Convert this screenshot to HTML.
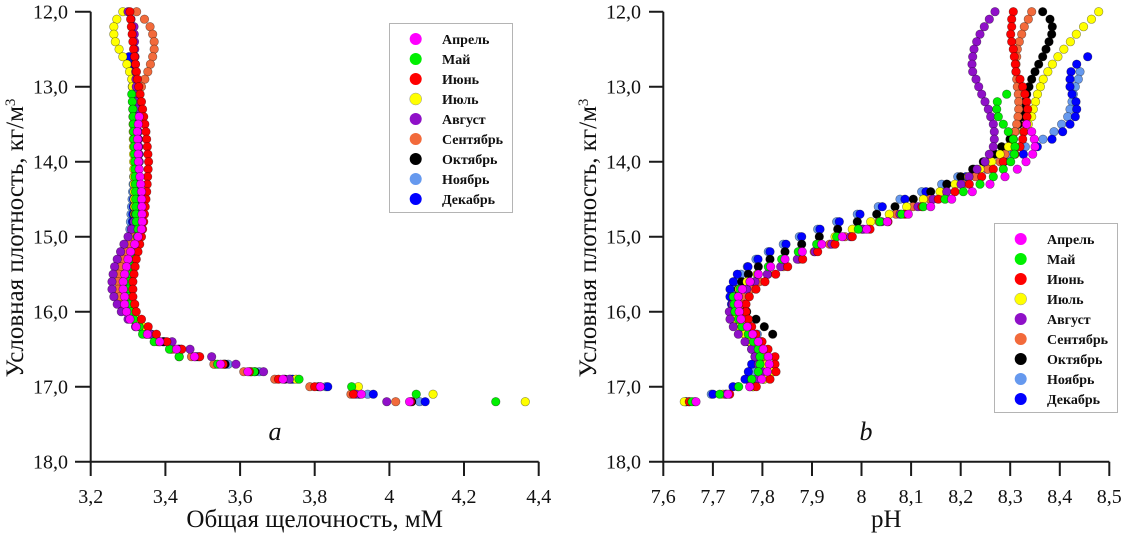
<!DOCTYPE html>
<html>
<head>
<meta charset="utf-8">
<style>
html,body{margin:0;padding:0;background:#fff;width:1126px;height:535px;overflow:hidden}
svg{display:block}
svg text{font-family:"Liberation Serif","DejaVu Serif","Noto Serif CJK SC",serif}
</style>
</head>
<body>
<svg id="s" width="1126" height="535" viewBox="0 0 1126 535" xmlns="http://www.w3.org/2000/svg">
<rect width="1126" height="535" fill="#fff"/>

<!-- Axes -->
<g stroke="#1a1a1a" stroke-width="2" fill="none">
  <path d="M90.7 11.7 V461.7 H538.7"/>
  <path d="M75 11.7H90.7 M75 86.7H90.7 M75 161.7H90.7 M75 236.7H90.7 M75 311.7H90.7 M75 386.7H90.7 M75 461.7H90.7"/>
  <path d="M90.7 461.7V476 M165.4 461.7V476 M240.1 461.7V476 M314.7 461.7V476 M389.4 461.7V476 M464 461.7V476 M538.7 461.7V476"/>
  <path d="M663.3 11.7 V461.7 H1109.3"/>
  <path d="M649 11.7H663.3 M649 86.7H663.3 M649 161.7H663.3 M649 236.7H663.3 M649 311.7H663.3 M649 386.7H663.3 M649 461.7H663.3"/>
  <path d="M663.3 461.7V476 M712.9 461.7V476 M762.4 461.7V476 M812 461.7V476 M861.5 461.7V476 M911.1 461.7V476 M960.7 461.7V476 M1010.2 461.7V476 M1059.8 461.7V476 M1109.3 461.7V476"/>
</g>

<!-- Y tick labels -->
<g font-size="20" fill="#111" text-anchor="end">
  <text x="68" y="18.7">12,0</text>
  <text x="68" y="93.7">13,0</text>
  <text x="68" y="168.7">14,0</text>
  <text x="68" y="243.7">15,0</text>
  <text x="68" y="318.7">16,0</text>
  <text x="68" y="393.7">17,0</text>
  <text x="68" y="468.7">18,0</text>
  <text x="641" y="18.7">12,0</text>
  <text x="641" y="93.7">13,0</text>
  <text x="641" y="168.7">14,0</text>
  <text x="641" y="243.7">15,0</text>
  <text x="641" y="318.7">16,0</text>
  <text x="641" y="393.7">17,0</text>
  <text x="641" y="468.7">18,0</text>
</g>

<!-- X tick labels -->
<g font-size="20" fill="#111" text-anchor="middle">
  <text x="90.7" y="503">3,2</text>
  <text x="165.4" y="503">3,4</text>
  <text x="240.1" y="503">3,6</text>
  <text x="314.7" y="503">3,8</text>
  <text x="389.4" y="503">4</text>
  <text x="464" y="503">4,2</text>
  <text x="538.7" y="503">4,4</text>
  <text x="663.3" y="503">7,6</text>
  <text x="712.9" y="503">7,7</text>
  <text x="762.4" y="503">7,8</text>
  <text x="812" y="503">7,9</text>
  <text x="861.5" y="503">8</text>
  <text x="911.1" y="503">8,1</text>
  <text x="960.7" y="503">8,2</text>
  <text x="1010.2" y="503">8,3</text>
  <text x="1059.8" y="503">8,4</text>
  <text x="1109.3" y="503">8,5</text>
</g>

<!-- Axis titles -->
<g font-size="25" fill="#111" text-anchor="middle">
  <text x="314.7" y="527">Общая щелочность, мМ</text>
  <text x="886.3" y="527">pH</text>
  <text transform="translate(23,238) rotate(-90)">Условная плотность, кг/м<tspan font-size="15" dy="-8">3</tspan></text>
  <text transform="translate(596,238) rotate(-90)">Условная плотность, кг/м<tspan font-size="15" dy="-8">3</tspan></text>
</g>

<g font-size="26" font-style="italic" fill="#111" text-anchor="middle">
  <text x="275" y="440">a</text>
  <text x="866" y="440">b</text>
</g>

<g id="dotsL"></g>
<g id="dotsR"></g>

<!-- Legends -->
<g id="legL">
  <rect x="389.5" y="23.5" width="123" height="189" fill="#fff" stroke="#b4b4b4" stroke-width="1"/>
  <circle cx="415.7" cy="39" r="6" fill="#ff00ff"/>
  <circle cx="415.7" cy="59" r="6" fill="#00f000"/>
  <circle cx="415.7" cy="79" r="6" fill="#ff0000"/>
  <circle cx="415.7" cy="99" r="6" fill="#ffff00" stroke="#999" stroke-width="0.5"/>
  <circle cx="415.7" cy="119" r="6" fill="#8f10c8"/>
  <circle cx="415.7" cy="139" r="6" fill="#f26a3b"/>
  <circle cx="415.7" cy="159" r="6" fill="#000000"/>
  <circle cx="415.7" cy="179" r="6" fill="#6699ee"/>
  <circle cx="415.7" cy="199" r="6" fill="#0000ff"/>
  <g font-size="14" font-weight="bold" fill="#111">
    <text x="442" y="44">Апрель</text>
    <text x="442" y="64">Май</text>
    <text x="442" y="84">Июнь</text>
    <text x="442" y="104">Июль</text>
    <text x="442" y="124">Август</text>
    <text x="442" y="144">Сентябрь</text>
    <text x="442" y="164">Октябрь</text>
    <text x="442" y="184">Ноябрь</text>
    <text x="442" y="204">Декабрь</text>
  </g>
</g>
<g id="legR">
  <rect x="994.5" y="223.5" width="123" height="189" fill="#fff" stroke="#b4b4b4" stroke-width="1"/>
  <circle cx="1020.7" cy="239" r="6" fill="#ff00ff"/>
  <circle cx="1020.7" cy="259" r="6" fill="#00f000"/>
  <circle cx="1020.7" cy="279" r="6" fill="#ff0000"/>
  <circle cx="1020.7" cy="299" r="6" fill="#ffff00" stroke="#999" stroke-width="0.5"/>
  <circle cx="1020.7" cy="319" r="6" fill="#8f10c8"/>
  <circle cx="1020.7" cy="339" r="6" fill="#f26a3b"/>
  <circle cx="1020.7" cy="359" r="6" fill="#000000"/>
  <circle cx="1020.7" cy="379" r="6" fill="#6699ee"/>
  <circle cx="1020.7" cy="399" r="6" fill="#0000ff"/>
  <g font-size="14" font-weight="bold" fill="#111">
    <text x="1047" y="244">Апрель</text>
    <text x="1047" y="264">Май</text>
    <text x="1047" y="284">Июнь</text>
    <text x="1047" y="304">Июль</text>
    <text x="1047" y="324">Август</text>
    <text x="1047" y="344">Сентябрь</text>
    <text x="1047" y="364">Октябрь</text>
    <text x="1047" y="384">Ноябрь</text>
    <text x="1047" y="404">Декабрь</text>
  </g>
</g>
</svg>

<script>
(function(){
var NS="http://www.w3.org/2000/svg";
var COL={mag:"#ff00ff",grn:"#00f000",red:"#ff0000",yel:"#ffff00",pur:"#8f10c8",ora:"#f26a3b",blk:"#000000",lbl:"#6699ee",blu:"#0000ff"};
function interp(keys){
  var out=[];var n=keys.length;
  var i0=Math.round(keys[0][0]*10), i1=Math.round(keys[n-1][0]*10);
  for(var i=i0;i<=i1;i++){
    var d=i/10,k=0;
    while(k<n-2 && keys[k+1][0]<d-1e-9)k++;
    var a=keys[k],b=keys[k+1];
    var t=(b[0]===a[0])?0:(d-a[0])/(b[0]-a[0]);
    out.push([d,a[1]+(b[1]-a[1])*t]);
  }
  return out;
}
function Y(d){return 11.7+(d-12)*75;}
function draw(gid,data,order,xf,adj){
  var g=document.getElementById(gid);
  order.forEach(function(key){
    var pts=interp(data[key]);
    pts.forEach(function(p){
      var x=xf(p[1]);
      if(adj) x+=adj(key,p[0]);
      var c=document.createElementNS(NS,"circle");
      c.setAttribute("cx",x.toFixed(2));
      c.setAttribute("cy",Y(p[0]).toFixed(2));
      c.setAttribute("r","4.3");
      c.setAttribute("fill",COL[key]);
      c.setAttribute("stroke","rgba(0,0,0,0.45)");
      c.setAttribute("stroke-width","0.6");
      g.appendChild(c);
    });
  });
}
var L={
 red:[[12.0,3.305],[12.5,3.315],[12.9,3.325],[13.2,3.336],[13.6,3.348],[14.0,3.355],[14.4,3.350],[14.8,3.342],[15.0,3.336],[15.3,3.322],[15.6,3.313],[15.8,3.313],[15.9,3.318],[16.0,3.322],[16.1,3.336],[16.2,3.354],[16.3,3.376],[16.4,3.404],[16.5,3.444],[16.6,3.492],[16.7,3.555],[16.8,3.625],[16.9,3.703],[17.0,3.80],[17.1,3.904],[17.2,4.057]],
 mag:[[13.4,3.33],[13.6,3.325],[14.0,3.328],[14.4,3.336],[14.8,3.338],[14.9,3.336],[15.0,3.327],[15.1,3.318],[15.2,3.307],[15.3,3.300],[15.4,3.296],[15.5,3.291],[15.6,3.287],[15.7,3.287],[15.8,3.291],[15.9,3.291],[16.0,3.296],[16.1,3.305],[16.2,3.322],[16.3,3.352],[16.4,3.385],[16.5,3.43],[16.6,3.478],[16.7,3.548],[16.8,3.621],[16.9,3.715],[17.0,3.815],[17.1,3.925],[17.2,4.054]],
 grn:[[13.1,3.31],[13.3,3.313],[14.0,3.318],[14.8,3.322],[14.9,3.327],[15.0,3.325],[15.2,3.322],[15.3,3.316],[15.4,3.312],[15.5,3.309],[15.6,3.305],[15.7,3.300],[15.8,3.302],[15.9,3.307],[16.0,3.309],[16.1,3.315],[16.2,3.33],[16.3,3.339],[16.4,3.37],[16.5,3.411],[16.6,3.437],[16.7,3.54],[16.8,3.638],[16.9,3.758],[17.0,3.899],[17.1,4.072],[17.2,4.285]],
 yel:[[12.0,3.286],[12.1,3.27],[12.2,3.262],[12.3,3.262],[12.4,3.266],[12.5,3.276],[12.6,3.286],[12.7,3.297],[12.8,3.304],[12.9,3.31],[13.0,3.312],[14.0,3.315],[14.9,3.318],[15.0,3.313],[15.5,3.30],[16.0,3.305],[16.1,3.322],[16.2,3.34],[16.3,3.36],[16.4,3.385],[16.5,3.415],[16.6,3.437],[16.7,3.533],[16.8,3.63],[16.9,3.75],[17.0,3.917],[17.1,4.117],[17.2,4.364]],
 ora:[[12.0,3.323],[12.1,3.344],[12.2,3.359],[12.3,3.366],[12.4,3.37],[12.5,3.37],[12.6,3.366],[12.7,3.36],[12.8,3.353],[12.9,3.345],[13.0,3.336],[13.1,3.33],[13.2,3.325],[14.0,3.33],[15.0,3.315],[15.1,3.305],[15.2,3.296],[15.3,3.287],[15.4,3.280],[15.5,3.275],[15.6,3.273],[15.7,3.273],[15.8,3.278],[15.9,3.285],[16.0,3.295],[16.1,3.31],[16.2,3.33],[16.3,3.35],[16.4,3.38],[16.5,3.42],[16.6,3.47],[16.7,3.53],[16.8,3.61],[16.9,3.693],[17.0,3.787],[17.1,3.897],[17.2,4.017]],
 pur:[[12.0,3.30],[12.2,3.316],[12.5,3.318],[13.0,3.322],[14.0,3.33],[14.6,3.325],[14.8,3.316],[14.9,3.309],[15.0,3.300],[15.1,3.289],[15.2,3.280],[15.3,3.271],[15.4,3.264],[15.5,3.26],[15.6,3.257],[15.7,3.257],[15.8,3.262],[15.9,3.271],[16.0,3.282],[16.1,3.30],[16.2,3.32],[16.3,3.36],[16.4,3.418],[16.5,3.466],[16.6,3.524],[16.7,3.589],[16.8,3.663],[16.9,3.732],[17.0,3.815],[17.1,3.911],[17.2,3.993]],
 blu:[[12.6,3.303],[12.7,3.315],[13.0,3.318],[14.0,3.32],[15.0,3.31],[15.6,3.295],[16.0,3.30],[16.2,3.33],[16.3,3.363],[16.4,3.395],[16.5,3.435],[16.6,3.49],[16.7,3.559],[16.8,3.63],[16.9,3.741],[17.0,3.835],[17.1,3.957],[17.2,4.096]],
 lbl:[[12.8,3.31],[14.0,3.318],[14.9,3.305],[15.5,3.29],[16.0,3.30],[16.3,3.355],[16.6,3.485],[16.9,3.735],[17.0,3.83],[17.1,3.942],[17.2,4.081]],
 blk:[[13.0,3.315],[14.0,3.32],[15.0,3.315],[15.6,3.292],[16.0,3.30],[16.3,3.35],[16.6,3.48],[16.9,3.72],[17.0,3.81],[17.1,3.92],[17.2,4.06]]
};
var R={
 pur:[[12.0,995],[12.1,989.3],[12.2,984.3],[12.3,980],[12.4,976.7],[12.5,974],[12.6,972.7],[12.7,972],[12.8,972.7],[12.9,976],[13.0,978.7],[13.1,981.7],[13.2,985],[13.3,988.3],[13.4,990.7],[13.5,993.3],[13.6,994.3],[13.7,994.3],[13.8,993.3],[13.9,989.3],[14.0,985],[14.3,961],[14.4,946.7],[14.5,933],[14.6,918],[14.7,900],[14.9,863.3],[15.0,850.7],[15.1,831.7],[15.2,815],[15.3,797.3],[15.4,780.7],[15.5,767.3],[15.6,755],[15.7,746.7],[15.8,738.3],[15.9,732.7],[16.0,729.3],[16.1,730],[16.2,733.3],[16.3,738.3],[16.4,745],[16.5,751.7],[16.8,762],[17.0,752],[17.1,733],[17.2,709]],
 red:[[12.0,1013.3],[12.1,1011.7],[12.2,1011.7],[12.3,1010.7],[12.4,1011.7],[12.5,1013.3],[12.6,1014.3],[12.7,1015.3],[12.8,1016],[12.9,1020],[13.0,1022.7],[13.1,1025],[13.2,1026.7],[13.3,1027.7],[13.4,1027],[13.5,1026],[13.6,1024],[13.7,1022.7],[13.8,1020],[13.9,1015],[14.0,1003.3],[14.1,993.3],[14.2,981.7],[14.3,969.3],[14.4,955],[14.5,938.3],[14.6,922],[14.7,905],[14.8,888],[14.9,870],[15.0,852.3],[15.1,835],[15.2,817.7],[15.3,802.7],[15.4,787.7],[15.5,775.7],[15.6,765],[15.7,756],[15.8,749.3],[15.9,746],[16.0,746],[16.1,748.3],[16.2,751.7],[16.3,756],[16.4,762],[16.5,768],[16.6,775],[16.7,775],[16.8,776],[16.9,770],[17.0,758.3],[17.1,736.7],[17.2,703.3]],
 ora:[[12.0,1031.7],[12.1,1028.3],[12.2,1024.3],[12.3,1021.7],[12.4,1019.3],[12.5,1017.3],[12.6,1016.7],[12.7,1016],[12.8,1016],[12.9,1016.7],[13.0,1017.3],[13.1,1018.3],[13.2,1018.7],[13.3,1018.7],[13.4,1018],[13.5,1016.7],[13.6,1015],[13.7,1013.3],[13.8,1010],[14.0,1000],[14.3,963],[14.5,930],[15.0,845],[15.5,768],[15.8,742],[16.0,740],[16.5,760],[16.8,772],[17.0,755],[17.1,733],[17.2,703]],
 blk:[[12.0,1042.7],[12.1,1050],[12.2,1052.3],[12.3,1051.7],[12.4,1049],[12.5,1046],[12.6,1042.7],[12.7,1038.7],[12.8,1035],[12.9,1031.7],[13.0,1029],[13.1,1026.7],[13.2,1025],[13.3,1024],[13.4,1021.7],[13.5,1018.3],[13.6,1015],[13.7,1010],[13.8,1001.7],[13.9,995],[14.0,983.3],[14.1,972.7],[14.2,960.7],[14.3,947],[14.4,930.7],[14.5,913.3],[14.6,895],[14.7,876.7],[14.8,857.3],[14.9,837.7],[15.0,819.3],[15.1,801.7],[15.2,785],[15.3,770],[15.4,758.3],[15.5,748.3],[15.6,741.7],[15.7,738.3],[15.8,738.3],[15.9,743.3],[16.0,746.7],[16.1,756],[16.2,764.3],[16.3,772.7]],
 yel:[[12.0,1082.7],[12.1,1076.7],[12.2,1070],[12.3,1064],[12.4,1059.3],[12.5,1054],[12.6,1049.3],[12.7,1045],[12.8,1041.7],[12.9,1038.3],[13.0,1036.7],[13.1,1035],[13.2,1034.3],[13.3,1033.3],[13.4,1031.7],[13.5,1028.3],[13.6,1023.3],[13.7,1013.3],[13.8,1008.3],[13.9,1000],[14.0,991.7],[14.1,980],[14.2,968.3],[14.3,955],[14.4,940],[14.5,923.3],[14.6,906.7],[14.7,889.3],[14.8,870.7],[14.9,852.3],[15.0,835],[15.1,818],[15.2,800],[15.3,783],[15.4,770],[15.5,757],[15.6,747],[15.7,739],[15.8,733.3],[15.9,732.7],[16.0,733.3],[16.1,735],[16.2,740],[16.5,755],[16.8,773],[17.0,755],[17.1,730],[17.2,698.3]],
 grn:[[13.1,1006.7],[13.2,997.3],[13.3,996.7],[13.4,998.3],[13.5,1003.3],[13.6,1008.3],[13.7,1013.3],[13.8,1015],[13.9,1014.3],[14.0,1010.7],[14.1,1003.3],[14.2,993.3],[14.3,980],[14.4,963.3],[14.5,945],[14.6,923.3],[14.7,901.7],[14.8,880],[14.9,858.3],[15.0,836.7],[15.1,816.7],[15.2,798.3],[15.3,781.7],[15.4,768.3],[15.5,758],[15.6,750],[15.7,740],[15.8,733.3],[16.0,735],[16.2,742],[16.3,748.3],[16.4,753.3],[16.5,758.3],[16.6,760],[16.7,760],[16.8,758.3],[16.9,751.7],[17.0,740.7],[17.1,726.7],[17.2,706]],
 mag:[[13.5,1026.7],[13.6,1031.7],[13.7,1034.3],[13.8,1035],[13.9,1032.7],[14.0,1026],[14.1,1017.3],[14.2,1005],[14.3,990],[14.4,972.3],[14.5,951.7],[14.6,930.7],[14.7,908.3],[14.8,887.3],[14.9,866.7],[15.0,842.3],[15.1,821.7],[15.2,802.3],[15.3,785],[15.4,770.7],[15.5,758.3],[15.6,750],[15.7,742.3],[15.8,738.3],[15.9,738.3],[16.0,739.3],[16.1,741],[16.2,747.3],[16.3,752.7],[16.4,758.3],[16.5,763.3],[16.6,768.3],[16.7,769.3],[16.8,767.3],[16.9,761.7],[17.0,751.7],[17.1,735],[17.2,710]],
 lbl:[[12.8,1064],[12.9,1062.3],[13.0,1059.3],[13.1,1057.3],[13.2,1056],[13.3,1054],[13.4,1051.7],[13.5,1048.3],[13.6,1043.3],[13.7,1035],[14.0,990],[14.3,941.7],[14.4,921.7],[14.5,900],[14.6,878.3],[14.7,857.3],[14.8,836.7],[14.9,817.7],[15.0,799.3],[15.1,783.3],[15.2,768.3],[15.3,756],[15.4,747.3],[15.5,741],[15.6,736],[15.7,733.3],[16.0,733],[16.2,745],[16.3,757.3],[16.4,761.7],[16.6,762],[16.9,748],[17.0,740],[17.1,718.3],[17.2,700]],
 blu:[[12.6,1071.7],[12.7,1060.7],[12.8,1055],[12.9,1054],[13.0,1054],[13.1,1056],[13.2,1060],[13.3,1060.7],[13.4,1059.3],[13.5,1056.7],[13.6,1052],[13.7,1044],[13.8,1032],[13.9,1020.7],[14.0,1004],[14.1,987.3],[14.2,966],[14.3,946.7],[14.4,926],[14.5,905],[14.6,882.3],[14.7,860],[14.8,839.3],[14.9,820],[15.0,801.7],[15.1,786],[15.2,770],[15.3,758],[15.4,748],[15.5,737.3],[15.6,733.3],[15.7,730],[15.8,730],[16.0,733],[16.3,745],[16.6,755],[16.9,745],[17.0,735],[17.1,720],[17.2,700]]
};
/* adjustment: spread the extreme ends of the pH profiles slightly */
function adjR(key,d){
  var s=0;
  if(key==="yel" && d<13.3){ s=16*(13.3-d)/1.3; }
  if((key==="blu"||key==="lbl") && d<14.0){ s=16*Math.min(1,(14.0-d)/0.6); }
  if(d>=17.15) s-=14; else if(d>=17.05) s-=7; else if(d>=16.95) s-=2;
  return s;
}
draw("dotsL",L,["lbl","blu","blk","yel","ora","pur","grn","red","mag"],function(v){return 90.7+(v-3.2)*373.33;});
draw("dotsR",R,["lbl","blu","blk","ora","yel","pur","red","grn","mag"],function(x){return x;},adjR);
})();
</script>
</body>
</html>
